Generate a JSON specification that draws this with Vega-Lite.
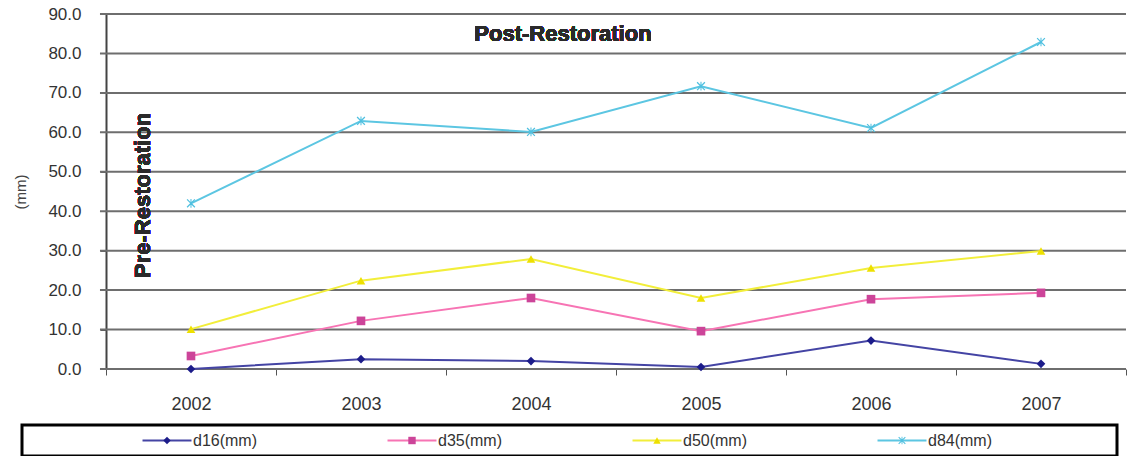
{
  "$schema": "https://vega.github.io/schema/vega-lite/v6.json",
  "background": "white",
  "padding": {"left": 13, "top": 5, "right": 0, "bottom": 0},
  "spacing": 10,
  "config": {"font": "Liberation Sans", "view": {"stroke": null}},
  "vconcat": [
    {
      "width": 1104,
      "height": 355,
      "view": {"stroke": null},
      "data": {
        "values": [
          {"year": "2002", "series": "d16(mm)", "value": 0.0},
          {"year": "2003", "series": "d16(mm)", "value": 2.5},
          {"year": "2004", "series": "d16(mm)", "value": 2.0},
          {"year": "2005", "series": "d16(mm)", "value": 0.5},
          {"year": "2006", "series": "d16(mm)", "value": 7.2},
          {"year": "2007", "series": "d16(mm)", "value": 1.3},
          {"year": "2002", "series": "d35(mm)", "value": 3.3},
          {"year": "2003", "series": "d35(mm)", "value": 12.2},
          {"year": "2004", "series": "d35(mm)", "value": 18.0},
          {"year": "2005", "series": "d35(mm)", "value": 9.6},
          {"year": "2006", "series": "d35(mm)", "value": 17.7},
          {"year": "2007", "series": "d35(mm)", "value": 19.3},
          {"year": "2002", "series": "d50(mm)", "value": 10.1},
          {"year": "2003", "series": "d50(mm)", "value": 22.4},
          {"year": "2004", "series": "d50(mm)", "value": 27.9},
          {"year": "2005", "series": "d50(mm)", "value": 18.0},
          {"year": "2006", "series": "d50(mm)", "value": 25.6},
          {"year": "2007", "series": "d50(mm)", "value": 29.9},
          {"year": "2002", "series": "d84(mm)", "value": 42.0},
          {"year": "2003", "series": "d84(mm)", "value": 62.9},
          {"year": "2004", "series": "d84(mm)", "value": 60.1},
          {"year": "2005", "series": "d84(mm)", "value": 71.7},
          {"year": "2006", "series": "d84(mm)", "value": 61.1},
          {"year": "2007", "series": "d84(mm)", "value": 82.9}
        ]
      },
      "encoding": {
        "x": {
          "field": "year",
          "type": "ordinal",
          "bandPosition": 0.5,
          "scale": {"type": "band", "paddingInner": 0, "paddingOuter": 0.247, "align": 1},
          "axis": {
            "title": null,
            "labelAngle": 0,
            "labelFontSize": 18,
            "labelColor": "#333333",
            "labelPadding": 20,
            "tickBand": "extent",
            "tickSize": 6,
            "tickColor": "#555555",
            "domain": false,
            "grid": false
          }
        },
        "y": {
          "field": "value",
          "type": "quantitative",
          "scale": {"domain": [0, 90], "nice": false},
          "axis": {
            "offset": -84,
            "values": [0, 10, 20, 30, 40, 50, 60, 70, 80, 90],
            "format": ".1f",
            "title": "(mm)",
            "titleFontSize": 15,
            "titleFontWeight": "normal",
            "titleColor": "#444444",
            "titlePadding": 19,
            "labelFontSize": 17,
            "labelColor": "#333333",
            "labelPadding": 19,
            "tickSize": 6,
            "tickColor": "#555555",
            "domainColor": "#444444",
            "domainWidth": 2,
            "grid": false
          }
        }
      },
      "layer": [
        {
          "data": {
            "values": [
              {"tick": 0}, {"tick": 10}, {"tick": 20}, {"tick": 30}, {"tick": 40},
              {"tick": 50}, {"tick": 60}, {"tick": 70}, {"tick": 80}, {"tick": 90}
            ]
          },
          "mark": {"type": "rule", "color": "#6e6e6e", "strokeWidth": 2, "xOffset": -6},
          "encoding": {
            "x": {"datum": "2002", "bandPosition": 0},
            "x2": {"value": "width"},
            "y": {"field": "tick", "type": "quantitative"}
          }
        },
        {
          "mark": {"type": "line", "strokeWidth": 2},
          "encoding": {
            "stroke": {
              "field": "series",
              "type": "nominal",
              "scale": {
                "domain": ["d16(mm)", "d35(mm)", "d50(mm)", "d84(mm)"],
                "range": ["#4444a4", "#f774b4", "#f2ee3a", "#5cc6e2"]
              },
              "legend": null
            }
          }
        },
        {
          "mark": {"type": "point", "filled": true, "size": 75, "opacity": 1},
          "encoding": {
            "fill": {
              "field": "series",
              "type": "nominal",
              "scale": {
                "domain": ["d16(mm)", "d35(mm)", "d50(mm)", "d84(mm)"],
                "range": ["#1c1c8a", "#cc4499", "#eee000", "#4fc0e0"]
              },
              "legend": null
            },
            "shape": {
              "field": "series",
              "type": "nominal",
              "scale": {
                "domain": ["d16(mm)", "d35(mm)", "d50(mm)", "d84(mm)"],
                "range": ["diamond", "square", "triangle-up", "M-1,-0.8L-0.8,-1L0,-0.2L0.8,-1L1,-0.8L0.2,0L1,0.8L0.8,1L0,0.2L-0.8,1L-1,0.8L-0.2,0Z M-0.12,-1L0.12,-1L0.12,1L-0.12,1Z"]
              },
              "legend": null
            }
          }
        },
        {
          "mark": {"type": "text", "text": "Post-Restoration", "font": "Liberation Sans", "fontSize": 22, "fontWeight": "bold", "fill": "#2a2a2a", "align": "center", "baseline": "middle", "xOffset": 32},
          "encoding": {
            "x": {"datum": "2004"},
            "y": {"datum": 85}
          }
        },
        {
          "mark": {"type": "text", "text": "Pre-Restoration", "font": "Liberation Sans", "fontSize": 22, "fontWeight": "bold", "fill": "#2a2a2a", "align": "center", "baseline": "middle", "angle": 270, "xOffset": -48},
          "encoding": {
            "x": {"datum": "2002"},
            "y": {"datum": 44}
          }
        }
      ]
    },
    {
      "width": 1095,
      "height": 31,
      "view": {"stroke": "black", "strokeWidth": 3},
      "data": {
        "values": [
          {"series": "d16(mm)"},
          {"series": "d35(mm)"},
          {"series": "d50(mm)"},
          {"series": "d84(mm)"}
        ]
      },
      "encoding": {
        "x": {
          "field": "series",
          "type": "nominal",
          "scale": {"type": "point", "padding": 0, "domain": ["d16(mm)", "d35(mm)", "d50(mm)", "d84(mm)"], "range": [145, 880]},
          "axis": null
        }
      },
      "layer": [
        {
          "mark": {"type": "point", "shape": "stroke", "size": 2400, "strokeWidth": 2, "filled": false, "opacity": 1},
          "encoding": {
            "stroke": {
              "field": "series",
              "type": "nominal",
              "scale": {
                "domain": ["d16(mm)", "d35(mm)", "d50(mm)", "d84(mm)"],
                "range": ["#4444a4", "#f774b4", "#f2ee3a", "#5cc6e2"]
              },
              "legend": null
            }
          }
        },
        {
          "mark": {"type": "point", "filled": true, "size": 55, "opacity": 1},
          "encoding": {
            "fill": {
              "field": "series",
              "type": "nominal",
              "scale": {
                "domain": ["d16(mm)", "d35(mm)", "d50(mm)", "d84(mm)"],
                "range": ["#1c1c8a", "#cc4499", "#eee000", "#4fc0e0"]
              },
              "legend": null
            },
            "shape": {
              "field": "series",
              "type": "nominal",
              "scale": {
                "domain": ["d16(mm)", "d35(mm)", "d50(mm)", "d84(mm)"],
                "range": ["diamond", "square", "triangle-up", "M-1,-0.8L-0.8,-1L0,-0.2L0.8,-1L1,-0.8L0.2,0L1,0.8L0.8,1L0,0.2L-0.8,1L-1,0.8L-0.2,0Z M-0.12,-1L0.12,-1L0.12,1L-0.12,1Z"]
              },
              "legend": null
            }
          }
        },
        {
          "mark": {"type": "text", "align": "left", "baseline": "middle", "dx": 26, "fontSize": 16, "fill": "#333333"},
          "encoding": {
            "text": {"field": "series", "type": "nominal"}
          }
        }
      ]
    }
  ]
}
